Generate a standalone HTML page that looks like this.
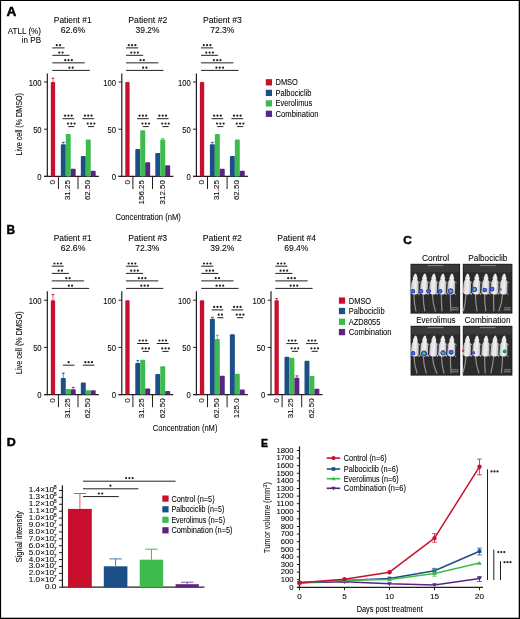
<!DOCTYPE html>
<html><head><meta charset="utf-8"><style>
html,body{margin:0;padding:0;background:#fff;}
svg{display:block;will-change:transform;}
text{font-family:"Liberation Sans",sans-serif;stroke:#231f20;stroke-width:0.08px;}
</style></head><body>
<svg width="520" height="619" viewBox="0 0 520 619">
<rect x="0" y="0" width="520" height="619" fill="#fff"/><rect x="0" y="0" width="520" height="1" fill="#000"/><rect x="0" y="0" width="1.1" height="619" fill="#000"/><rect x="518.7" y="0" width="1.3" height="619" fill="#000"/><rect x="0" y="617.7" width="520" height="1.3" fill="#000"/>
<text x="6.60" y="15.70" font-size="12.3" text-anchor="start" font-weight="bold" textLength="9.90" lengthAdjust="spacingAndGlyphs" fill="#000" style="stroke:#000;stroke-width:0.45px">A</text>
<text x="41.00" y="34.20" font-size="8.3" text-anchor="end" textLength="33.20" lengthAdjust="spacingAndGlyphs">ATLL (%)</text>
<text x="41.00" y="43.40" font-size="8.3" text-anchor="end" textLength="19.20" lengthAdjust="spacingAndGlyphs">in PB</text>
<text x="53.80" y="22.90" font-size="8.3" text-anchor="start" textLength="37.80" lengthAdjust="spacingAndGlyphs">Patient #1</text>
<text x="60.70" y="32.90" font-size="8.3" text-anchor="start" textLength="24.60" lengthAdjust="spacingAndGlyphs">62.6%</text>
<line x1="47.33" y1="73.50" x2="47.33" y2="177.00" stroke="#231f20" stroke-width="1.2"/>
<line x1="44.03" y1="176.40" x2="47.33" y2="176.40" stroke="#231f20" stroke-width="1"/>
<line x1="44.03" y1="129.20" x2="47.33" y2="129.20" stroke="#231f20" stroke-width="1"/>
<line x1="44.03" y1="82.00" x2="47.33" y2="82.00" stroke="#231f20" stroke-width="1"/>
<text x="41.63" y="85.50" font-size="8.3" text-anchor="end" textLength="12.80" lengthAdjust="spacingAndGlyphs">100</text>
<text x="41.63" y="132.70" font-size="8.3" text-anchor="end" textLength="8.50" lengthAdjust="spacingAndGlyphs">50</text>
<text x="41.63" y="179.90" font-size="8.3" text-anchor="end" textLength="4.30" lengthAdjust="spacingAndGlyphs">0</text>
<line x1="44.03" y1="176.40" x2="98.83" y2="176.40" stroke="#231f20" stroke-width="1.3"/>
<line x1="58.43" y1="176.40" x2="58.43" y2="189.00" stroke="#231f20" stroke-width="1"/>
<line x1="78.03" y1="176.40" x2="78.03" y2="189.00" stroke="#231f20" stroke-width="1"/>
<rect x="50.83" y="82.00" width="4.30" height="94.40" fill="#c8102e" rx="0.9"/>
<line x1="52.98" y1="78.22" x2="52.98" y2="82.00" stroke="#c8102e" stroke-width="1.1" opacity="0.6"/>
<line x1="51.58" y1="78.22" x2="54.38" y2="78.22" stroke="#c8102e" stroke-width="1.2" opacity="0.8"/>
<rect x="60.83" y="144.30" width="4.95" height="32.10" fill="#1b4f86" rx="0.9"/>
<line x1="63.30" y1="142.42" x2="63.30" y2="144.30" stroke="#1b4f86" stroke-width="1.1" opacity="0.6"/>
<line x1="61.91" y1="142.42" x2="64.70" y2="142.42" stroke="#1b4f86" stroke-width="1.2" opacity="0.8"/>
<rect x="65.78" y="133.92" width="4.95" height="42.48" fill="#3dbb4c" rx="0.9"/>
<rect x="70.73" y="168.85" width="4.95" height="7.55" fill="#5a2580" rx="0.9"/>
<rect x="80.83" y="156.01" width="4.95" height="20.39" fill="#1b4f86" rx="0.9"/>
<rect x="85.78" y="139.58" width="4.95" height="36.82" fill="#3dbb4c" rx="0.9"/>
<rect x="90.73" y="170.74" width="4.95" height="5.66" fill="#5a2580" rx="0.9"/>
<text x="55.13" y="180.10" font-size="7.8" text-anchor="end" textLength="4.50" lengthAdjust="spacingAndGlyphs" transform="rotate(-90 55.13 180.10)">0</text>
<text x="69.83" y="180.10" font-size="7.8" text-anchor="end" textLength="20.00" lengthAdjust="spacingAndGlyphs" transform="rotate(-90 69.83 180.10)">31.25</text>
<text x="90.23" y="180.10" font-size="7.8" text-anchor="end" textLength="20.00" lengthAdjust="spacingAndGlyphs" transform="rotate(-90 90.23 180.10)">62.50</text>
<line x1="52.33" y1="47.90" x2="64.53" y2="47.90" stroke="#231f20" stroke-width="1"/>
<circle cx="56.78" cy="45.20" r="1.1" fill="#231f20"/>
<circle cx="60.08" cy="45.20" r="1.1" fill="#231f20"/>
<line x1="52.33" y1="55.30" x2="69.53" y2="55.30" stroke="#231f20" stroke-width="1"/>
<circle cx="59.28" cy="52.60" r="1.1" fill="#231f20"/>
<circle cx="62.58" cy="52.60" r="1.1" fill="#231f20"/>
<line x1="52.33" y1="62.85" x2="84.73" y2="62.85" stroke="#231f20" stroke-width="1"/>
<circle cx="65.23" cy="60.15" r="1.1" fill="#231f20"/>
<circle cx="68.53" cy="60.15" r="1.1" fill="#231f20"/>
<circle cx="71.83" cy="60.15" r="1.1" fill="#231f20"/>
<line x1="52.33" y1="70.40" x2="89.83" y2="70.40" stroke="#231f20" stroke-width="1"/>
<circle cx="69.43" cy="67.70" r="1.1" fill="#231f20"/>
<circle cx="72.73" cy="67.70" r="1.1" fill="#231f20"/>
<line x1="62.58" y1="118.70" x2="74.23" y2="118.70" stroke="#231f20" stroke-width="1"/>
<circle cx="65.11" cy="115.70" r="1.1" fill="#231f20"/>
<circle cx="68.41" cy="115.70" r="1.1" fill="#231f20"/>
<circle cx="71.70" cy="115.70" r="1.1" fill="#231f20"/>
<line x1="68.23" y1="126.60" x2="74.33" y2="126.60" stroke="#231f20" stroke-width="1"/>
<circle cx="67.98" cy="123.60" r="1.1" fill="#231f20"/>
<circle cx="71.28" cy="123.60" r="1.1" fill="#231f20"/>
<circle cx="74.58" cy="123.60" r="1.1" fill="#231f20"/>
<line x1="82.33" y1="118.70" x2="94.13" y2="118.70" stroke="#231f20" stroke-width="1"/>
<circle cx="84.93" cy="115.70" r="1.1" fill="#231f20"/>
<circle cx="88.23" cy="115.70" r="1.1" fill="#231f20"/>
<circle cx="91.53" cy="115.70" r="1.1" fill="#231f20"/>
<line x1="87.93" y1="126.60" x2="94.13" y2="126.60" stroke="#231f20" stroke-width="1"/>
<circle cx="87.73" cy="123.60" r="1.1" fill="#231f20"/>
<circle cx="91.03" cy="123.60" r="1.1" fill="#231f20"/>
<circle cx="94.33" cy="123.60" r="1.1" fill="#231f20"/>
<text x="128.30" y="22.90" font-size="8.3" text-anchor="start" textLength="39.00" lengthAdjust="spacingAndGlyphs">Patient #2</text>
<text x="135.60" y="32.90" font-size="8.3" text-anchor="start" textLength="23.90" lengthAdjust="spacingAndGlyphs">39.2%</text>
<line x1="121.80" y1="73.50" x2="121.80" y2="177.00" stroke="#231f20" stroke-width="1.2"/>
<line x1="118.50" y1="176.40" x2="121.80" y2="176.40" stroke="#231f20" stroke-width="1"/>
<line x1="118.50" y1="129.20" x2="121.80" y2="129.20" stroke="#231f20" stroke-width="1"/>
<line x1="118.50" y1="82.00" x2="121.80" y2="82.00" stroke="#231f20" stroke-width="1"/>
<text x="116.10" y="85.50" font-size="8.3" text-anchor="end" textLength="12.80" lengthAdjust="spacingAndGlyphs">100</text>
<text x="116.10" y="132.70" font-size="8.3" text-anchor="end" textLength="8.50" lengthAdjust="spacingAndGlyphs">50</text>
<text x="116.10" y="179.90" font-size="8.3" text-anchor="end" textLength="4.30" lengthAdjust="spacingAndGlyphs">0</text>
<line x1="118.50" y1="176.40" x2="173.30" y2="176.40" stroke="#231f20" stroke-width="1.3"/>
<line x1="132.90" y1="176.40" x2="132.90" y2="189.00" stroke="#231f20" stroke-width="1"/>
<line x1="152.50" y1="176.40" x2="152.50" y2="189.00" stroke="#231f20" stroke-width="1"/>
<rect x="125.30" y="82.00" width="4.30" height="94.40" fill="#c8102e" rx="0.9"/>
<rect x="135.30" y="149.02" width="4.95" height="27.38" fill="#1b4f86" rx="0.9"/>
<rect x="140.25" y="130.24" width="4.95" height="46.16" fill="#3dbb4c" rx="0.9"/>
<rect x="145.20" y="162.24" width="4.95" height="14.16" fill="#5a2580" rx="0.9"/>
<rect x="155.30" y="152.99" width="4.95" height="23.41" fill="#1b4f86" rx="0.9"/>
<rect x="160.25" y="139.49" width="4.95" height="36.91" fill="#3dbb4c" rx="0.9"/>
<line x1="162.73" y1="138.64" x2="162.73" y2="139.49" stroke="#3dbb4c" stroke-width="1.1" opacity="0.6"/>
<line x1="161.33" y1="138.64" x2="164.13" y2="138.64" stroke="#3dbb4c" stroke-width="1.2" opacity="0.8"/>
<rect x="165.20" y="165.36" width="4.95" height="11.04" fill="#5a2580" rx="0.9"/>
<text x="129.60" y="180.10" font-size="7.8" text-anchor="end" textLength="4.50" lengthAdjust="spacingAndGlyphs" transform="rotate(-90 129.60 180.10)">0</text>
<text x="144.30" y="180.10" font-size="7.8" text-anchor="end" textLength="24.30" lengthAdjust="spacingAndGlyphs" transform="rotate(-90 144.30 180.10)">156.25</text>
<text x="164.70" y="180.10" font-size="7.8" text-anchor="end" textLength="24.30" lengthAdjust="spacingAndGlyphs" transform="rotate(-90 164.70 180.10)">312.50</text>
<line x1="126.00" y1="47.90" x2="138.20" y2="47.90" stroke="#231f20" stroke-width="1"/>
<circle cx="128.80" cy="45.20" r="1.1" fill="#231f20"/>
<circle cx="132.10" cy="45.20" r="1.1" fill="#231f20"/>
<circle cx="135.40" cy="45.20" r="1.1" fill="#231f20"/>
<line x1="126.00" y1="55.30" x2="143.20" y2="55.30" stroke="#231f20" stroke-width="1"/>
<circle cx="131.30" cy="52.60" r="1.1" fill="#231f20"/>
<circle cx="134.60" cy="52.60" r="1.1" fill="#231f20"/>
<circle cx="137.90" cy="52.60" r="1.1" fill="#231f20"/>
<line x1="126.00" y1="62.85" x2="158.40" y2="62.85" stroke="#231f20" stroke-width="1"/>
<circle cx="140.55" cy="60.15" r="1.1" fill="#231f20"/>
<circle cx="143.85" cy="60.15" r="1.1" fill="#231f20"/>
<line x1="126.00" y1="70.40" x2="163.50" y2="70.40" stroke="#231f20" stroke-width="1"/>
<circle cx="143.10" cy="67.70" r="1.1" fill="#231f20"/>
<circle cx="146.40" cy="67.70" r="1.1" fill="#231f20"/>
<line x1="137.05" y1="118.70" x2="148.70" y2="118.70" stroke="#231f20" stroke-width="1"/>
<circle cx="139.57" cy="115.70" r="1.1" fill="#231f20"/>
<circle cx="142.88" cy="115.70" r="1.1" fill="#231f20"/>
<circle cx="146.18" cy="115.70" r="1.1" fill="#231f20"/>
<line x1="142.70" y1="126.60" x2="148.80" y2="126.60" stroke="#231f20" stroke-width="1"/>
<circle cx="142.45" cy="123.60" r="1.1" fill="#231f20"/>
<circle cx="145.75" cy="123.60" r="1.1" fill="#231f20"/>
<circle cx="149.05" cy="123.60" r="1.1" fill="#231f20"/>
<line x1="156.80" y1="118.70" x2="168.60" y2="118.70" stroke="#231f20" stroke-width="1"/>
<circle cx="159.40" cy="115.70" r="1.1" fill="#231f20"/>
<circle cx="162.70" cy="115.70" r="1.1" fill="#231f20"/>
<circle cx="166.00" cy="115.70" r="1.1" fill="#231f20"/>
<line x1="162.40" y1="126.60" x2="168.60" y2="126.60" stroke="#231f20" stroke-width="1"/>
<circle cx="162.20" cy="123.60" r="1.1" fill="#231f20"/>
<circle cx="165.50" cy="123.60" r="1.1" fill="#231f20"/>
<circle cx="168.80" cy="123.60" r="1.1" fill="#231f20"/>
<text x="203.00" y="22.90" font-size="8.3" text-anchor="start" textLength="38.90" lengthAdjust="spacingAndGlyphs">Patient #3</text>
<text x="210.20" y="32.90" font-size="8.3" text-anchor="start" textLength="24.30" lengthAdjust="spacingAndGlyphs">72.3%</text>
<line x1="196.40" y1="73.50" x2="196.40" y2="177.00" stroke="#231f20" stroke-width="1.2"/>
<line x1="193.10" y1="176.40" x2="196.40" y2="176.40" stroke="#231f20" stroke-width="1"/>
<line x1="193.10" y1="129.20" x2="196.40" y2="129.20" stroke="#231f20" stroke-width="1"/>
<line x1="193.10" y1="82.00" x2="196.40" y2="82.00" stroke="#231f20" stroke-width="1"/>
<text x="190.70" y="85.50" font-size="8.3" text-anchor="end" textLength="12.80" lengthAdjust="spacingAndGlyphs">100</text>
<text x="190.70" y="132.70" font-size="8.3" text-anchor="end" textLength="8.50" lengthAdjust="spacingAndGlyphs">50</text>
<text x="190.70" y="179.90" font-size="8.3" text-anchor="end" textLength="4.30" lengthAdjust="spacingAndGlyphs">0</text>
<line x1="193.10" y1="176.40" x2="247.90" y2="176.40" stroke="#231f20" stroke-width="1.3"/>
<line x1="207.50" y1="176.40" x2="207.50" y2="189.00" stroke="#231f20" stroke-width="1"/>
<line x1="227.10" y1="176.40" x2="227.10" y2="189.00" stroke="#231f20" stroke-width="1"/>
<rect x="199.90" y="82.00" width="4.30" height="94.40" fill="#c8102e" rx="0.9"/>
<rect x="209.90" y="144.30" width="4.95" height="32.10" fill="#1b4f86" rx="0.9"/>
<line x1="212.38" y1="142.42" x2="212.38" y2="144.30" stroke="#1b4f86" stroke-width="1.1" opacity="0.6"/>
<line x1="210.97" y1="142.42" x2="213.78" y2="142.42" stroke="#1b4f86" stroke-width="1.2" opacity="0.8"/>
<rect x="214.85" y="133.92" width="4.95" height="42.48" fill="#3dbb4c" rx="0.9"/>
<rect x="219.80" y="168.85" width="4.95" height="7.55" fill="#5a2580" rx="0.9"/>
<rect x="229.90" y="156.01" width="4.95" height="20.39" fill="#1b4f86" rx="0.9"/>
<rect x="234.85" y="139.58" width="4.95" height="36.82" fill="#3dbb4c" rx="0.9"/>
<rect x="239.80" y="170.74" width="4.95" height="5.66" fill="#5a2580" rx="0.9"/>
<text x="204.20" y="180.10" font-size="7.8" text-anchor="end" textLength="4.50" lengthAdjust="spacingAndGlyphs" transform="rotate(-90 204.20 180.10)">0</text>
<text x="218.90" y="180.10" font-size="7.8" text-anchor="end" textLength="20.00" lengthAdjust="spacingAndGlyphs" transform="rotate(-90 218.90 180.10)">31.25</text>
<text x="239.30" y="180.10" font-size="7.8" text-anchor="end" textLength="20.00" lengthAdjust="spacingAndGlyphs" transform="rotate(-90 239.30 180.10)">62.50</text>
<line x1="201.00" y1="47.90" x2="213.20" y2="47.90" stroke="#231f20" stroke-width="1"/>
<circle cx="203.80" cy="45.20" r="1.1" fill="#231f20"/>
<circle cx="207.10" cy="45.20" r="1.1" fill="#231f20"/>
<circle cx="210.40" cy="45.20" r="1.1" fill="#231f20"/>
<line x1="201.00" y1="55.30" x2="218.20" y2="55.30" stroke="#231f20" stroke-width="1"/>
<circle cx="206.30" cy="52.60" r="1.1" fill="#231f20"/>
<circle cx="209.60" cy="52.60" r="1.1" fill="#231f20"/>
<circle cx="212.90" cy="52.60" r="1.1" fill="#231f20"/>
<line x1="201.00" y1="62.85" x2="233.40" y2="62.85" stroke="#231f20" stroke-width="1"/>
<circle cx="213.90" cy="60.15" r="1.1" fill="#231f20"/>
<circle cx="217.20" cy="60.15" r="1.1" fill="#231f20"/>
<circle cx="220.50" cy="60.15" r="1.1" fill="#231f20"/>
<line x1="201.00" y1="70.40" x2="238.50" y2="70.40" stroke="#231f20" stroke-width="1"/>
<circle cx="216.45" cy="67.70" r="1.1" fill="#231f20"/>
<circle cx="219.75" cy="67.70" r="1.1" fill="#231f20"/>
<circle cx="223.05" cy="67.70" r="1.1" fill="#231f20"/>
<line x1="211.65" y1="118.70" x2="223.30" y2="118.70" stroke="#231f20" stroke-width="1"/>
<circle cx="214.17" cy="115.70" r="1.1" fill="#231f20"/>
<circle cx="217.47" cy="115.70" r="1.1" fill="#231f20"/>
<circle cx="220.78" cy="115.70" r="1.1" fill="#231f20"/>
<line x1="217.30" y1="126.60" x2="223.40" y2="126.60" stroke="#231f20" stroke-width="1"/>
<circle cx="217.05" cy="123.60" r="1.1" fill="#231f20"/>
<circle cx="220.35" cy="123.60" r="1.1" fill="#231f20"/>
<circle cx="223.65" cy="123.60" r="1.1" fill="#231f20"/>
<line x1="231.40" y1="118.70" x2="243.20" y2="118.70" stroke="#231f20" stroke-width="1"/>
<circle cx="234.00" cy="115.70" r="1.1" fill="#231f20"/>
<circle cx="237.30" cy="115.70" r="1.1" fill="#231f20"/>
<circle cx="240.60" cy="115.70" r="1.1" fill="#231f20"/>
<line x1="237.00" y1="126.60" x2="243.20" y2="126.60" stroke="#231f20" stroke-width="1"/>
<circle cx="236.80" cy="123.60" r="1.1" fill="#231f20"/>
<circle cx="240.10" cy="123.60" r="1.1" fill="#231f20"/>
<circle cx="243.40" cy="123.60" r="1.1" fill="#231f20"/>
<text x="115.60" y="220.40" font-size="8.6" text-anchor="start" textLength="65.20" lengthAdjust="spacingAndGlyphs">Concentration (nM)</text>
<text x="21.90" y="124.30" font-size="8.3" text-anchor="middle" textLength="62.30" lengthAdjust="spacingAndGlyphs" transform="rotate(-90 21.90 124.30)">Live cell (% DMSO)</text>
<rect x="265.80" y="79.15" width="6.20" height="6.30" fill="#c8102e"/>
<text x="275.50" y="85.20" font-size="8.3" text-anchor="start" textLength="22.40" lengthAdjust="spacingAndGlyphs">DMSO</text>
<rect x="265.80" y="89.75" width="6.20" height="6.30" fill="#1b4f86"/>
<text x="275.50" y="95.80" font-size="8.3" text-anchor="start" textLength="35.90" lengthAdjust="spacingAndGlyphs">Palbociclib</text>
<rect x="265.80" y="100.25" width="6.20" height="6.30" fill="#3dbb4c"/>
<text x="275.50" y="106.30" font-size="8.3" text-anchor="start" textLength="36.65" lengthAdjust="spacingAndGlyphs">Everolimus</text>
<rect x="265.80" y="110.65" width="6.20" height="6.30" fill="#5a2580"/>
<text x="275.50" y="116.70" font-size="8.3" text-anchor="start" textLength="42.90" lengthAdjust="spacingAndGlyphs">Combination</text>
<text x="6.60" y="234.40" font-size="12.3" text-anchor="start" font-weight="bold" textLength="8.60" lengthAdjust="spacingAndGlyphs" fill="#000" style="stroke:#000;stroke-width:0.45px">B</text>
<text x="53.70" y="241.00" font-size="8.3" text-anchor="start" textLength="37.90" lengthAdjust="spacingAndGlyphs">Patient #1</text>
<text x="60.70" y="251.00" font-size="8.3" text-anchor="start" textLength="24.80" lengthAdjust="spacingAndGlyphs">62.6%</text>
<line x1="47.33" y1="291.20" x2="47.33" y2="395.20" stroke="#231f20" stroke-width="1.2"/>
<line x1="44.03" y1="394.60" x2="47.33" y2="394.60" stroke="#231f20" stroke-width="1"/>
<line x1="44.03" y1="347.40" x2="47.33" y2="347.40" stroke="#231f20" stroke-width="1"/>
<line x1="44.03" y1="300.20" x2="47.33" y2="300.20" stroke="#231f20" stroke-width="1"/>
<text x="41.63" y="303.70" font-size="8.3" text-anchor="end" textLength="12.80" lengthAdjust="spacingAndGlyphs">100</text>
<text x="41.63" y="350.90" font-size="8.3" text-anchor="end" textLength="8.50" lengthAdjust="spacingAndGlyphs">50</text>
<text x="41.63" y="398.10" font-size="8.3" text-anchor="end" textLength="4.30" lengthAdjust="spacingAndGlyphs">0</text>
<line x1="44.03" y1="394.60" x2="98.83" y2="394.60" stroke="#231f20" stroke-width="1.3"/>
<line x1="58.43" y1="394.60" x2="58.43" y2="407.20" stroke="#231f20" stroke-width="1"/>
<line x1="78.03" y1="394.60" x2="78.03" y2="407.20" stroke="#231f20" stroke-width="1"/>
<rect x="50.83" y="300.20" width="4.30" height="94.40" fill="#c8102e" rx="0.9"/>
<line x1="52.98" y1="294.54" x2="52.98" y2="300.20" stroke="#c8102e" stroke-width="1.1" opacity="0.6"/>
<line x1="51.58" y1="294.54" x2="54.38" y2="294.54" stroke="#c8102e" stroke-width="1.2" opacity="0.8"/>
<rect x="60.83" y="377.99" width="4.95" height="16.61" fill="#1b4f86" rx="0.9"/>
<line x1="63.30" y1="373.27" x2="63.30" y2="377.99" stroke="#1b4f86" stroke-width="1.1" opacity="0.6"/>
<line x1="61.91" y1="373.27" x2="64.70" y2="373.27" stroke="#1b4f86" stroke-width="1.2" opacity="0.8"/>
<rect x="65.78" y="389.03" width="4.95" height="5.57" fill="#3dbb4c" rx="0.9"/>
<rect x="70.73" y="389.31" width="4.95" height="5.29" fill="#5a2580" rx="0.9"/>
<line x1="73.21" y1="387.43" x2="73.21" y2="389.31" stroke="#5a2580" stroke-width="1.1" opacity="0.6"/>
<line x1="71.81" y1="387.43" x2="74.61" y2="387.43" stroke="#5a2580" stroke-width="1.2" opacity="0.8"/>
<rect x="80.83" y="382.52" width="4.95" height="12.08" fill="#1b4f86" rx="0.9"/>
<rect x="85.78" y="390.26" width="4.95" height="4.34" fill="#3dbb4c" rx="0.9"/>
<rect x="90.73" y="390.26" width="4.95" height="4.34" fill="#5a2580" rx="0.9"/>
<text x="55.13" y="398.30" font-size="7.8" text-anchor="end" textLength="4.50" lengthAdjust="spacingAndGlyphs" transform="rotate(-90 55.13 398.30)">0</text>
<text x="69.83" y="398.30" font-size="7.8" text-anchor="end" textLength="20.00" lengthAdjust="spacingAndGlyphs" transform="rotate(-90 69.83 398.30)">31.25</text>
<text x="90.23" y="398.30" font-size="7.8" text-anchor="end" textLength="20.00" lengthAdjust="spacingAndGlyphs" transform="rotate(-90 90.23 398.30)">62.50</text>
<line x1="51.78" y1="266.20" x2="63.78" y2="266.20" stroke="#231f20" stroke-width="1"/>
<circle cx="54.48" cy="263.50" r="1.1" fill="#231f20"/>
<circle cx="57.78" cy="263.50" r="1.1" fill="#231f20"/>
<circle cx="61.08" cy="263.50" r="1.1" fill="#231f20"/>
<line x1="51.78" y1="273.40" x2="68.88" y2="273.40" stroke="#231f20" stroke-width="1"/>
<circle cx="58.68" cy="270.70" r="1.1" fill="#231f20"/>
<circle cx="61.98" cy="270.70" r="1.1" fill="#231f20"/>
<line x1="51.78" y1="280.90" x2="84.08" y2="280.90" stroke="#231f20" stroke-width="1"/>
<circle cx="66.28" cy="278.20" r="1.1" fill="#231f20"/>
<circle cx="69.58" cy="278.20" r="1.1" fill="#231f20"/>
<line x1="51.78" y1="288.40" x2="89.08" y2="288.40" stroke="#231f20" stroke-width="1"/>
<circle cx="68.78" cy="285.70" r="1.1" fill="#231f20"/>
<circle cx="72.08" cy="285.70" r="1.1" fill="#231f20"/>
<line x1="62.93" y1="365.20" x2="74.43" y2="365.20" stroke="#231f20" stroke-width="1"/>
<circle cx="68.68" cy="362.20" r="1.1" fill="#231f20"/>
<line x1="82.83" y1="365.20" x2="94.43" y2="365.20" stroke="#231f20" stroke-width="1"/>
<circle cx="85.33" cy="362.20" r="1.1" fill="#231f20"/>
<circle cx="88.63" cy="362.20" r="1.1" fill="#231f20"/>
<circle cx="91.93" cy="362.20" r="1.1" fill="#231f20"/>
<text x="128.30" y="241.00" font-size="8.3" text-anchor="start" textLength="38.80" lengthAdjust="spacingAndGlyphs">Patient #3</text>
<text x="135.20" y="251.00" font-size="8.3" text-anchor="start" textLength="24.30" lengthAdjust="spacingAndGlyphs">72.3%</text>
<line x1="121.80" y1="291.20" x2="121.80" y2="395.20" stroke="#231f20" stroke-width="1.2"/>
<line x1="118.50" y1="394.60" x2="121.80" y2="394.60" stroke="#231f20" stroke-width="1"/>
<line x1="118.50" y1="347.40" x2="121.80" y2="347.40" stroke="#231f20" stroke-width="1"/>
<line x1="118.50" y1="300.20" x2="121.80" y2="300.20" stroke="#231f20" stroke-width="1"/>
<text x="116.10" y="303.70" font-size="8.3" text-anchor="end" textLength="12.80" lengthAdjust="spacingAndGlyphs">100</text>
<text x="116.10" y="350.90" font-size="8.3" text-anchor="end" textLength="8.50" lengthAdjust="spacingAndGlyphs">50</text>
<text x="116.10" y="398.10" font-size="8.3" text-anchor="end" textLength="4.30" lengthAdjust="spacingAndGlyphs">0</text>
<line x1="118.50" y1="394.60" x2="173.30" y2="394.60" stroke="#231f20" stroke-width="1.3"/>
<line x1="132.90" y1="394.60" x2="132.90" y2="407.20" stroke="#231f20" stroke-width="1"/>
<line x1="152.50" y1="394.60" x2="152.50" y2="407.20" stroke="#231f20" stroke-width="1"/>
<rect x="125.30" y="300.20" width="4.30" height="94.40" fill="#c8102e" rx="0.9"/>
<rect x="135.30" y="362.88" width="4.95" height="31.72" fill="#1b4f86" rx="0.9"/>
<line x1="137.78" y1="360.52" x2="137.78" y2="362.88" stroke="#1b4f86" stroke-width="1.1" opacity="0.6"/>
<line x1="136.38" y1="360.52" x2="139.18" y2="360.52" stroke="#1b4f86" stroke-width="1.2" opacity="0.8"/>
<rect x="140.25" y="359.67" width="4.95" height="34.93" fill="#3dbb4c" rx="0.9"/>
<rect x="145.20" y="388.46" width="4.95" height="6.14" fill="#5a2580" rx="0.9"/>
<rect x="155.30" y="374.12" width="4.95" height="20.48" fill="#1b4f86" rx="0.9"/>
<rect x="160.25" y="366.28" width="4.95" height="28.32" fill="#3dbb4c" rx="0.9"/>
<rect x="165.20" y="391.01" width="4.95" height="3.59" fill="#5a2580" rx="0.9"/>
<text x="129.60" y="398.30" font-size="7.8" text-anchor="end" textLength="4.50" lengthAdjust="spacingAndGlyphs" transform="rotate(-90 129.60 398.30)">0</text>
<text x="144.30" y="398.30" font-size="7.8" text-anchor="end" textLength="20.00" lengthAdjust="spacingAndGlyphs" transform="rotate(-90 144.30 398.30)">31.25</text>
<text x="164.70" y="398.30" font-size="7.8" text-anchor="end" textLength="20.00" lengthAdjust="spacingAndGlyphs" transform="rotate(-90 164.70 398.30)">62.50</text>
<line x1="126.00" y1="266.20" x2="138.00" y2="266.20" stroke="#231f20" stroke-width="1"/>
<circle cx="128.70" cy="263.50" r="1.1" fill="#231f20"/>
<circle cx="132.00" cy="263.50" r="1.1" fill="#231f20"/>
<circle cx="135.30" cy="263.50" r="1.1" fill="#231f20"/>
<line x1="126.00" y1="273.40" x2="143.10" y2="273.40" stroke="#231f20" stroke-width="1"/>
<circle cx="131.25" cy="270.70" r="1.1" fill="#231f20"/>
<circle cx="134.55" cy="270.70" r="1.1" fill="#231f20"/>
<circle cx="137.85" cy="270.70" r="1.1" fill="#231f20"/>
<line x1="126.00" y1="280.90" x2="158.30" y2="280.90" stroke="#231f20" stroke-width="1"/>
<circle cx="138.85" cy="278.20" r="1.1" fill="#231f20"/>
<circle cx="142.15" cy="278.20" r="1.1" fill="#231f20"/>
<circle cx="145.45" cy="278.20" r="1.1" fill="#231f20"/>
<line x1="126.00" y1="288.40" x2="163.30" y2="288.40" stroke="#231f20" stroke-width="1"/>
<circle cx="141.35" cy="285.70" r="1.1" fill="#231f20"/>
<circle cx="144.65" cy="285.70" r="1.1" fill="#231f20"/>
<circle cx="147.95" cy="285.70" r="1.1" fill="#231f20"/>
<line x1="137.05" y1="343.50" x2="148.70" y2="343.50" stroke="#231f20" stroke-width="1"/>
<circle cx="139.57" cy="340.50" r="1.1" fill="#231f20"/>
<circle cx="142.88" cy="340.50" r="1.1" fill="#231f20"/>
<circle cx="146.18" cy="340.50" r="1.1" fill="#231f20"/>
<line x1="142.70" y1="351.40" x2="148.80" y2="351.40" stroke="#231f20" stroke-width="1"/>
<circle cx="142.45" cy="348.40" r="1.1" fill="#231f20"/>
<circle cx="145.75" cy="348.40" r="1.1" fill="#231f20"/>
<circle cx="149.05" cy="348.40" r="1.1" fill="#231f20"/>
<line x1="156.80" y1="343.50" x2="168.60" y2="343.50" stroke="#231f20" stroke-width="1"/>
<circle cx="159.40" cy="340.50" r="1.1" fill="#231f20"/>
<circle cx="162.70" cy="340.50" r="1.1" fill="#231f20"/>
<circle cx="166.00" cy="340.50" r="1.1" fill="#231f20"/>
<line x1="162.40" y1="351.40" x2="168.60" y2="351.40" stroke="#231f20" stroke-width="1"/>
<circle cx="162.20" cy="348.40" r="1.1" fill="#231f20"/>
<circle cx="165.50" cy="348.40" r="1.1" fill="#231f20"/>
<circle cx="168.80" cy="348.40" r="1.1" fill="#231f20"/>
<text x="202.80" y="241.00" font-size="8.3" text-anchor="start" textLength="39.10" lengthAdjust="spacingAndGlyphs">Patient #2</text>
<text x="210.20" y="251.00" font-size="8.3" text-anchor="start" textLength="24.30" lengthAdjust="spacingAndGlyphs">39.2%</text>
<line x1="196.40" y1="291.20" x2="196.40" y2="395.20" stroke="#231f20" stroke-width="1.2"/>
<line x1="193.10" y1="394.60" x2="196.40" y2="394.60" stroke="#231f20" stroke-width="1"/>
<line x1="193.10" y1="347.40" x2="196.40" y2="347.40" stroke="#231f20" stroke-width="1"/>
<line x1="193.10" y1="300.20" x2="196.40" y2="300.20" stroke="#231f20" stroke-width="1"/>
<text x="190.70" y="303.70" font-size="8.3" text-anchor="end" textLength="12.80" lengthAdjust="spacingAndGlyphs">100</text>
<text x="190.70" y="350.90" font-size="8.3" text-anchor="end" textLength="8.50" lengthAdjust="spacingAndGlyphs">50</text>
<text x="190.70" y="398.10" font-size="8.3" text-anchor="end" textLength="4.30" lengthAdjust="spacingAndGlyphs">0</text>
<line x1="193.10" y1="394.60" x2="247.90" y2="394.60" stroke="#231f20" stroke-width="1.3"/>
<line x1="207.50" y1="394.60" x2="207.50" y2="407.20" stroke="#231f20" stroke-width="1"/>
<line x1="227.10" y1="394.60" x2="227.10" y2="407.20" stroke="#231f20" stroke-width="1"/>
<rect x="199.90" y="300.20" width="4.30" height="94.40" fill="#c8102e" rx="0.9"/>
<rect x="209.90" y="318.80" width="4.95" height="75.80" fill="#1b4f86" rx="0.9"/>
<line x1="212.38" y1="317.29" x2="212.38" y2="318.80" stroke="#1b4f86" stroke-width="1.1" opacity="0.6"/>
<line x1="210.97" y1="317.29" x2="213.78" y2="317.29" stroke="#1b4f86" stroke-width="1.2" opacity="0.8"/>
<rect x="214.85" y="338.90" width="4.95" height="55.70" fill="#3dbb4c" rx="0.9"/>
<line x1="217.32" y1="335.32" x2="217.32" y2="338.90" stroke="#3dbb4c" stroke-width="1.1" opacity="0.6"/>
<line x1="215.92" y1="335.32" x2="218.72" y2="335.32" stroke="#3dbb4c" stroke-width="1.2" opacity="0.8"/>
<rect x="219.80" y="375.72" width="4.95" height="18.88" fill="#5a2580" rx="0.9"/>
<rect x="229.90" y="334.28" width="4.95" height="60.32" fill="#1b4f86" rx="0.9"/>
<rect x="234.85" y="373.83" width="4.95" height="20.77" fill="#3dbb4c" rx="0.9"/>
<rect x="239.80" y="389.50" width="4.95" height="5.10" fill="#5a2580" rx="0.9"/>
<text x="204.20" y="398.30" font-size="7.8" text-anchor="end" textLength="4.50" lengthAdjust="spacingAndGlyphs" transform="rotate(-90 204.20 398.30)">0</text>
<text x="218.90" y="398.30" font-size="7.8" text-anchor="end" textLength="20.00" lengthAdjust="spacingAndGlyphs" transform="rotate(-90 218.90 398.30)">62.50</text>
<text x="239.30" y="398.30" font-size="7.8" text-anchor="end" textLength="20.00" lengthAdjust="spacingAndGlyphs" transform="rotate(-90 239.30 398.30)">125.0</text>
<line x1="201.25" y1="266.20" x2="213.25" y2="266.20" stroke="#231f20" stroke-width="1"/>
<circle cx="203.95" cy="263.50" r="1.1" fill="#231f20"/>
<circle cx="207.25" cy="263.50" r="1.1" fill="#231f20"/>
<circle cx="210.55" cy="263.50" r="1.1" fill="#231f20"/>
<line x1="201.25" y1="273.40" x2="218.35" y2="273.40" stroke="#231f20" stroke-width="1"/>
<circle cx="206.50" cy="270.70" r="1.1" fill="#231f20"/>
<circle cx="209.80" cy="270.70" r="1.1" fill="#231f20"/>
<circle cx="213.10" cy="270.70" r="1.1" fill="#231f20"/>
<line x1="201.25" y1="280.90" x2="233.55" y2="280.90" stroke="#231f20" stroke-width="1"/>
<circle cx="215.75" cy="278.20" r="1.1" fill="#231f20"/>
<circle cx="219.05" cy="278.20" r="1.1" fill="#231f20"/>
<line x1="201.25" y1="288.40" x2="238.55" y2="288.40" stroke="#231f20" stroke-width="1"/>
<circle cx="216.60" cy="285.70" r="1.1" fill="#231f20"/>
<circle cx="219.90" cy="285.70" r="1.1" fill="#231f20"/>
<circle cx="223.20" cy="285.70" r="1.1" fill="#231f20"/>
<line x1="211.65" y1="309.90" x2="223.30" y2="309.90" stroke="#231f20" stroke-width="1"/>
<circle cx="214.17" cy="306.90" r="1.1" fill="#231f20"/>
<circle cx="217.47" cy="306.90" r="1.1" fill="#231f20"/>
<circle cx="220.78" cy="306.90" r="1.1" fill="#231f20"/>
<line x1="217.30" y1="317.70" x2="223.40" y2="317.70" stroke="#231f20" stroke-width="1"/>
<circle cx="218.70" cy="314.70" r="1.1" fill="#231f20"/>
<circle cx="222.00" cy="314.70" r="1.1" fill="#231f20"/>
<line x1="231.40" y1="309.90" x2="243.20" y2="309.90" stroke="#231f20" stroke-width="1"/>
<circle cx="234.00" cy="306.90" r="1.1" fill="#231f20"/>
<circle cx="237.30" cy="306.90" r="1.1" fill="#231f20"/>
<circle cx="240.60" cy="306.90" r="1.1" fill="#231f20"/>
<line x1="237.00" y1="317.70" x2="243.20" y2="317.70" stroke="#231f20" stroke-width="1"/>
<circle cx="236.80" cy="314.70" r="1.1" fill="#231f20"/>
<circle cx="240.10" cy="314.70" r="1.1" fill="#231f20"/>
<circle cx="243.40" cy="314.70" r="1.1" fill="#231f20"/>
<text x="277.30" y="241.00" font-size="8.3" text-anchor="start" textLength="38.80" lengthAdjust="spacingAndGlyphs">Patient #4</text>
<text x="284.20" y="251.00" font-size="8.3" text-anchor="start" textLength="24.30" lengthAdjust="spacingAndGlyphs">69.4%</text>
<line x1="271.00" y1="291.20" x2="271.00" y2="395.20" stroke="#231f20" stroke-width="1.2"/>
<line x1="267.70" y1="394.60" x2="271.00" y2="394.60" stroke="#231f20" stroke-width="1"/>
<line x1="267.70" y1="347.40" x2="271.00" y2="347.40" stroke="#231f20" stroke-width="1"/>
<line x1="267.70" y1="300.20" x2="271.00" y2="300.20" stroke="#231f20" stroke-width="1"/>
<text x="265.30" y="303.70" font-size="8.3" text-anchor="end" textLength="12.80" lengthAdjust="spacingAndGlyphs">100</text>
<text x="265.30" y="350.90" font-size="8.3" text-anchor="end" textLength="8.50" lengthAdjust="spacingAndGlyphs">50</text>
<text x="265.30" y="398.10" font-size="8.3" text-anchor="end" textLength="4.30" lengthAdjust="spacingAndGlyphs">0</text>
<line x1="267.70" y1="394.60" x2="322.50" y2="394.60" stroke="#231f20" stroke-width="1.3"/>
<line x1="282.10" y1="394.60" x2="282.10" y2="407.20" stroke="#231f20" stroke-width="1"/>
<line x1="301.70" y1="394.60" x2="301.70" y2="407.20" stroke="#231f20" stroke-width="1"/>
<rect x="274.50" y="300.20" width="4.30" height="94.40" fill="#c8102e" rx="0.9"/>
<line x1="276.65" y1="298.60" x2="276.65" y2="300.20" stroke="#c8102e" stroke-width="1.1" opacity="0.6"/>
<line x1="275.25" y1="298.60" x2="278.05" y2="298.60" stroke="#c8102e" stroke-width="1.2" opacity="0.8"/>
<rect x="284.50" y="356.84" width="4.95" height="37.76" fill="#1b4f86" rx="0.9"/>
<rect x="289.45" y="357.78" width="4.95" height="36.82" fill="#3dbb4c" rx="0.9"/>
<rect x="294.40" y="377.70" width="4.95" height="16.90" fill="#5a2580" rx="0.9"/>
<line x1="296.88" y1="375.91" x2="296.88" y2="377.70" stroke="#5a2580" stroke-width="1.1" opacity="0.6"/>
<line x1="295.48" y1="375.91" x2="298.27" y2="375.91" stroke="#5a2580" stroke-width="1.2" opacity="0.8"/>
<rect x="304.50" y="360.80" width="4.95" height="33.80" fill="#1b4f86" rx="0.9"/>
<rect x="309.45" y="375.91" width="4.95" height="18.69" fill="#3dbb4c" rx="0.9"/>
<rect x="314.40" y="388.65" width="4.95" height="5.95" fill="#5a2580" rx="0.9"/>
<text x="278.80" y="398.30" font-size="7.8" text-anchor="end" textLength="4.50" lengthAdjust="spacingAndGlyphs" transform="rotate(-90 278.80 398.30)">0</text>
<text x="293.50" y="398.30" font-size="7.8" text-anchor="end" textLength="20.00" lengthAdjust="spacingAndGlyphs" transform="rotate(-90 293.50 398.30)">31.25</text>
<text x="313.90" y="398.30" font-size="7.8" text-anchor="end" textLength="20.00" lengthAdjust="spacingAndGlyphs" transform="rotate(-90 313.90 398.30)">62.50</text>
<line x1="275.30" y1="266.20" x2="287.30" y2="266.20" stroke="#231f20" stroke-width="1"/>
<circle cx="278.00" cy="263.50" r="1.1" fill="#231f20"/>
<circle cx="281.30" cy="263.50" r="1.1" fill="#231f20"/>
<circle cx="284.60" cy="263.50" r="1.1" fill="#231f20"/>
<line x1="275.30" y1="273.40" x2="292.40" y2="273.40" stroke="#231f20" stroke-width="1"/>
<circle cx="280.55" cy="270.70" r="1.1" fill="#231f20"/>
<circle cx="283.85" cy="270.70" r="1.1" fill="#231f20"/>
<circle cx="287.15" cy="270.70" r="1.1" fill="#231f20"/>
<line x1="275.30" y1="280.90" x2="307.60" y2="280.90" stroke="#231f20" stroke-width="1"/>
<circle cx="288.15" cy="278.20" r="1.1" fill="#231f20"/>
<circle cx="291.45" cy="278.20" r="1.1" fill="#231f20"/>
<circle cx="294.75" cy="278.20" r="1.1" fill="#231f20"/>
<line x1="275.30" y1="288.40" x2="312.60" y2="288.40" stroke="#231f20" stroke-width="1"/>
<circle cx="290.65" cy="285.70" r="1.1" fill="#231f20"/>
<circle cx="293.95" cy="285.70" r="1.1" fill="#231f20"/>
<circle cx="297.25" cy="285.70" r="1.1" fill="#231f20"/>
<line x1="286.25" y1="343.60" x2="297.90" y2="343.60" stroke="#231f20" stroke-width="1"/>
<circle cx="288.77" cy="340.60" r="1.1" fill="#231f20"/>
<circle cx="292.07" cy="340.60" r="1.1" fill="#231f20"/>
<circle cx="295.38" cy="340.60" r="1.1" fill="#231f20"/>
<line x1="291.90" y1="351.30" x2="298.00" y2="351.30" stroke="#231f20" stroke-width="1"/>
<circle cx="291.65" cy="348.30" r="1.1" fill="#231f20"/>
<circle cx="294.95" cy="348.30" r="1.1" fill="#231f20"/>
<circle cx="298.25" cy="348.30" r="1.1" fill="#231f20"/>
<line x1="306.00" y1="343.60" x2="317.80" y2="343.60" stroke="#231f20" stroke-width="1"/>
<circle cx="308.60" cy="340.60" r="1.1" fill="#231f20"/>
<circle cx="311.90" cy="340.60" r="1.1" fill="#231f20"/>
<circle cx="315.20" cy="340.60" r="1.1" fill="#231f20"/>
<line x1="311.60" y1="351.30" x2="317.80" y2="351.30" stroke="#231f20" stroke-width="1"/>
<circle cx="311.40" cy="348.30" r="1.1" fill="#231f20"/>
<circle cx="314.70" cy="348.30" r="1.1" fill="#231f20"/>
<circle cx="318.00" cy="348.30" r="1.1" fill="#231f20"/>
<text x="152.80" y="431.20" font-size="8.6" text-anchor="start" textLength="64.60" lengthAdjust="spacingAndGlyphs">Concentration (nM)</text>
<text x="22.10" y="342.70" font-size="8.3" text-anchor="middle" textLength="62.60" lengthAdjust="spacingAndGlyphs" transform="rotate(-90 22.10 342.70)">Live cell (% DMSO)</text>
<rect x="338.90" y="297.45" width="6.20" height="6.30" fill="#c8102e"/>
<text x="348.75" y="303.50" font-size="8.3" text-anchor="start" textLength="22.45" lengthAdjust="spacingAndGlyphs">DMSO</text>
<rect x="338.90" y="307.85" width="6.20" height="6.30" fill="#1b4f86"/>
<text x="348.75" y="313.90" font-size="8.3" text-anchor="start" textLength="35.85" lengthAdjust="spacingAndGlyphs">Palbociclib</text>
<rect x="338.90" y="318.65" width="6.20" height="6.30" fill="#3dbb4c"/>
<text x="348.75" y="324.70" font-size="8.3" text-anchor="start" textLength="31.65" lengthAdjust="spacingAndGlyphs">AZD8055</text>
<rect x="338.90" y="328.95" width="6.20" height="6.30" fill="#5a2580"/>
<text x="348.75" y="335.00" font-size="8.3" text-anchor="start" textLength="42.85" lengthAdjust="spacingAndGlyphs">Combination</text>
<text x="403.20" y="244.20" font-size="11.5" text-anchor="start" font-weight="bold" textLength="8.60" lengthAdjust="spacingAndGlyphs" fill="#000" style="stroke:#000;stroke-width:0.45px">C</text>
<text x="421.90" y="261.00" font-size="8.3" text-anchor="start" textLength="27.20" lengthAdjust="spacingAndGlyphs">Control</text>
<text x="468.30" y="261.00" font-size="8.3" text-anchor="start" textLength="39.00" lengthAdjust="spacingAndGlyphs">Palbociclib</text>
<text x="416.30" y="323.00" font-size="8.3" text-anchor="start" textLength="39.30" lengthAdjust="spacingAndGlyphs">Everolimus</text>
<text x="464.40" y="323.00" font-size="8.3" text-anchor="start" textLength="46.10" lengthAdjust="spacingAndGlyphs">Combination</text>
<defs>
<radialGradient id="gb"><stop offset="0" stop-color="#30b0c0"/><stop offset="0.45" stop-color="#2060d8"/><stop offset="0.8" stop-color="#5030c0"/><stop offset="1" stop-color="#7040c0" stop-opacity="0.2"/></radialGradient>
<radialGradient id="gg"><stop offset="0" stop-color="#d8d040"/><stop offset="0.3" stop-color="#40b868"/><stop offset="0.6" stop-color="#2060d8"/><stop offset="0.85" stop-color="#5030c0"/><stop offset="1" stop-color="#7040c0" stop-opacity="0.2"/></radialGradient>
<radialGradient id="gp"><stop offset="0" stop-color="#6040d0"/><stop offset="1" stop-color="#6040d0" stop-opacity="0"/></radialGradient>
<radialGradient id="gr"><stop offset="0" stop-color="#f06020"/><stop offset="0.6" stop-color="#d03030"/><stop offset="1" stop-color="#d03030" stop-opacity="0"/></radialGradient>
<radialGradient id="gt"><stop offset="0" stop-color="#20a0a0"/><stop offset="0.6" stop-color="#1080a0"/><stop offset="1" stop-color="#1080a0" stop-opacity="0"/></radialGradient>
<linearGradient id="mb" x1="0" x2="1"><stop offset="0" stop-color="#a0a0a0"/><stop offset="0.25" stop-color="#e2e2e2"/><stop offset="0.6" stop-color="#f0f0f0"/><stop offset="1" stop-color="#b4b4b4"/></linearGradient>
</defs>
<rect x="410.50" y="263.80" width="49.60" height="49.80" fill="#1c1c1c"/>
<rect x="411.30" y="264.60" width="48.00" height="48.20" fill="#2b2b2b"/>
<rect x="411.30" y="264.70" width="48.00" height="7.60" fill="#3a3a3a"/>
<rect x="427.50" y="265.20" width="16.00" height="0.90" fill="#8a8a8a"/>
<rect x="451.50" y="307.30" width="7.00" height="1.00" fill="#8a8a8a"/>
<rect x="451.50" y="309.30" width="7.00" height="1.00" fill="#8a8a8a"/>
<g transform="translate(415.5,273.4) rotate(3)"><path d="M-0.6,20.5 Q0.1,30 2.5,38" stroke="#909090" stroke-width="1.2" fill="none"/><path d="M2.6,19 L5.0,21.2 M-3.2,19 L-5.2,21 M3,8 L5,9.4" stroke="#bdbdbd" stroke-width="0.9"/><path d="M0,0 C1.1,0.4 1.6,1.8 1.8,3.2 L2.6,4.6 L2.1,6.2 C3.2,7.4 3.8,9.2 3.8,12 L4.0,18.4 C3.8,20.3 2.4,21.2 0,21.2 C-2.4,21.2 -3.8,20.3 -4.0,18.4 L-3.8,12 C-3.8,9.2 -3.2,7.4 -2.1,6.2 L-2.6,4.6 L-1.8,3.2 C-1.6,1.8 -1.1,0.4 0,0Z" fill="url(#mb)"/></g>
<g transform="translate(424.8,273.4) rotate(3)"><path d="M-0.6,20.5 Q0.0,30 2.0,38" stroke="#909090" stroke-width="1.2" fill="none"/><path d="M2.6,19 L5.0,21.2 M-3.2,19 L-5.2,21 M3,8 L5,9.4" stroke="#bdbdbd" stroke-width="0.9"/><path d="M0,0 C1.1,0.4 1.6,1.8 1.8,3.2 L2.6,4.6 L2.1,6.2 C3.2,7.4 3.8,9.2 3.8,12 L4.0,18.4 C3.8,20.3 2.4,21.2 0,21.2 C-2.4,21.2 -3.8,20.3 -4.0,18.4 L-3.8,12 C-3.8,9.2 -3.2,7.4 -2.1,6.2 L-2.6,4.6 L-1.8,3.2 C-1.6,1.8 -1.1,0.4 0,0Z" fill="url(#mb)"/></g>
<g transform="translate(434.0,273.4) rotate(3)"><path d="M-0.6,20.5 Q0.2,30 3.5,38" stroke="#909090" stroke-width="1.2" fill="none"/><path d="M2.6,19 L5.0,21.2 M-3.2,19 L-5.2,21 M3,8 L5,9.4" stroke="#bdbdbd" stroke-width="0.9"/><path d="M0,0 C1.1,0.4 1.6,1.8 1.8,3.2 L2.6,4.6 L2.1,6.2 C3.2,7.4 3.8,9.2 3.8,12 L4.0,18.4 C3.8,20.3 2.4,21.2 0,21.2 C-2.4,21.2 -3.8,20.3 -4.0,18.4 L-3.8,12 C-3.8,9.2 -3.2,7.4 -2.1,6.2 L-2.6,4.6 L-1.8,3.2 C-1.6,1.8 -1.1,0.4 0,0Z" fill="url(#mb)"/></g>
<g transform="translate(443.0,273.4) rotate(3)"><path d="M-0.6,20.5 Q-0.1,30 1.0,38" stroke="#909090" stroke-width="1.2" fill="none"/><path d="M2.6,19 L5.0,21.2 M-3.2,19 L-5.2,21 M3,8 L5,9.4" stroke="#bdbdbd" stroke-width="0.9"/><path d="M0,0 C1.1,0.4 1.6,1.8 1.8,3.2 L2.6,4.6 L2.1,6.2 C3.2,7.4 3.8,9.2 3.8,12 L4.0,18.4 C3.8,20.3 2.4,21.2 0,21.2 C-2.4,21.2 -3.8,20.3 -4.0,18.4 L-3.8,12 C-3.8,9.2 -3.2,7.4 -2.1,6.2 L-2.6,4.6 L-1.8,3.2 C-1.6,1.8 -1.1,0.4 0,0Z" fill="url(#mb)"/></g>
<g transform="translate(452.0,273.4) rotate(3)"><path d="M-0.6,20.5 Q-0.1,30 1.0,38" stroke="#909090" stroke-width="1.2" fill="none"/><path d="M2.6,19 L5.0,21.2 M-3.2,19 L-5.2,21 M3,8 L5,9.4" stroke="#bdbdbd" stroke-width="0.9"/><path d="M0,0 C1.1,0.4 1.6,1.8 1.8,3.2 L2.6,4.6 L2.1,6.2 C3.2,7.4 3.8,9.2 3.8,12 L4.0,18.4 C3.8,20.3 2.4,21.2 0,21.2 C-2.4,21.2 -3.8,20.3 -4.0,18.4 L-3.8,12 C-3.8,9.2 -3.2,7.4 -2.1,6.2 L-2.6,4.6 L-1.8,3.2 C-1.6,1.8 -1.1,0.4 0,0Z" fill="url(#mb)"/></g>
<circle cx="413.0" cy="291.2" r="2.56" fill="url(#gb)"/>
<circle cx="421.0" cy="291.2" r="2.56" fill="url(#gb)"/>
<circle cx="428.6" cy="291.0" r="2.56" fill="url(#gb)"/>
<circle cx="440.2" cy="291.2" r="2.56" fill="url(#gb)"/>
<circle cx="450.6" cy="291.2" r="3.10" fill="url(#gg)"/>
<rect x="462.80" y="263.80" width="49.60" height="49.80" fill="#1c1c1c"/>
<rect x="463.60" y="264.60" width="48.00" height="48.20" fill="#2b2b2b"/>
<rect x="463.60" y="264.70" width="48.00" height="7.60" fill="#3a3a3a"/>
<rect x="479.80" y="265.20" width="16.00" height="0.90" fill="#8a8a8a"/>
<rect x="503.80" y="307.30" width="7.00" height="1.00" fill="#8a8a8a"/>
<rect x="503.80" y="309.30" width="7.00" height="1.00" fill="#8a8a8a"/>
<g transform="translate(467.8,273.4) rotate(3)"><path d="M-0.6,20.5 Q-0.7,30 -2.5,38" stroke="#909090" stroke-width="1.2" fill="none"/><path d="M2.6,19 L5.0,21.2 M-3.2,19 L-5.2,21 M3,8 L5,9.4" stroke="#bdbdbd" stroke-width="0.9"/><path d="M0,0 C1.1,0.4 1.6,1.8 1.8,3.2 L2.6,4.6 L2.1,6.2 C3.2,7.4 3.8,9.2 3.8,12 L4.0,18.4 C3.8,20.3 2.4,21.2 0,21.2 C-2.4,21.2 -3.8,20.3 -4.0,18.4 L-3.8,12 C-3.8,9.2 -3.2,7.4 -2.1,6.2 L-2.6,4.6 L-1.8,3.2 C-1.6,1.8 -1.1,0.4 0,0Z" fill="url(#mb)"/></g>
<g transform="translate(477.1,273.4) rotate(3)"><path d="M-0.6,20.5 Q0.0,30 2.0,38" stroke="#909090" stroke-width="1.2" fill="none"/><path d="M2.6,19 L5.0,21.2 M-3.2,19 L-5.2,21 M3,8 L5,9.4" stroke="#bdbdbd" stroke-width="0.9"/><path d="M0,0 C1.1,0.4 1.6,1.8 1.8,3.2 L2.6,4.6 L2.1,6.2 C3.2,7.4 3.8,9.2 3.8,12 L4.0,18.4 C3.8,20.3 2.4,21.2 0,21.2 C-2.4,21.2 -3.8,20.3 -4.0,18.4 L-3.8,12 C-3.8,9.2 -3.2,7.4 -2.1,6.2 L-2.6,4.6 L-1.8,3.2 C-1.6,1.8 -1.1,0.4 0,0Z" fill="url(#mb)"/></g>
<g transform="translate(486.3,273.4) rotate(3)"><path d="M-0.6,20.5 Q-0.1,30 1.5,38" stroke="#909090" stroke-width="1.2" fill="none"/><path d="M2.6,19 L5.0,21.2 M-3.2,19 L-5.2,21 M3,8 L5,9.4" stroke="#bdbdbd" stroke-width="0.9"/><path d="M0,0 C1.1,0.4 1.6,1.8 1.8,3.2 L2.6,4.6 L2.1,6.2 C3.2,7.4 3.8,9.2 3.8,12 L4.0,18.4 C3.8,20.3 2.4,21.2 0,21.2 C-2.4,21.2 -3.8,20.3 -4.0,18.4 L-3.8,12 C-3.8,9.2 -3.2,7.4 -2.1,6.2 L-2.6,4.6 L-1.8,3.2 C-1.6,1.8 -1.1,0.4 0,0Z" fill="url(#mb)"/></g>
<g transform="translate(495.3,273.4) rotate(3)"><path d="M-0.6,20.5 Q-0.2,30 0.5,38" stroke="#909090" stroke-width="1.2" fill="none"/><path d="M2.6,19 L5.0,21.2 M-3.2,19 L-5.2,21 M3,8 L5,9.4" stroke="#bdbdbd" stroke-width="0.9"/><path d="M0,0 C1.1,0.4 1.6,1.8 1.8,3.2 L2.6,4.6 L2.1,6.2 C3.2,7.4 3.8,9.2 3.8,12 L4.0,18.4 C3.8,20.3 2.4,21.2 0,21.2 C-2.4,21.2 -3.8,20.3 -4.0,18.4 L-3.8,12 C-3.8,9.2 -3.2,7.4 -2.1,6.2 L-2.6,4.6 L-1.8,3.2 C-1.6,1.8 -1.1,0.4 0,0Z" fill="url(#mb)"/></g>
<g transform="translate(504.3,273.4) rotate(3)"><path d="M-0.6,20.5 Q-0.8,30 -3.5,38" stroke="#909090" stroke-width="1.2" fill="none"/><path d="M2.6,19 L5.0,21.2 M-3.2,19 L-5.2,21 M3,8 L5,9.4" stroke="#bdbdbd" stroke-width="0.9"/><path d="M0,0 C1.1,0.4 1.6,1.8 1.8,3.2 L2.6,4.6 L2.1,6.2 C3.2,7.4 3.8,9.2 3.8,12 L4.0,18.4 C3.8,20.3 2.4,21.2 0,21.2 C-2.4,21.2 -3.8,20.3 -4.0,18.4 L-3.8,12 C-3.8,9.2 -3.2,7.4 -2.1,6.2 L-2.6,4.6 L-1.8,3.2 C-1.6,1.8 -1.1,0.4 0,0Z" fill="url(#mb)"/></g>
<circle cx="474.4" cy="289.4" r="2.97" fill="url(#gg)"/>
<circle cx="484.8" cy="290.0" r="2.56" fill="url(#gb)"/>
<circle cx="492.0" cy="289.1" r="2.70" fill="url(#gb)"/>
<circle cx="500.7" cy="289.4" r="1.89" fill="url(#gp)"/>
<rect x="410.60" y="325.80" width="49.60" height="49.80" fill="#1c1c1c"/>
<rect x="411.40" y="326.60" width="48.00" height="48.20" fill="#2b2b2b"/>
<rect x="411.40" y="326.70" width="48.00" height="7.60" fill="#3a3a3a"/>
<rect x="427.60" y="327.20" width="16.00" height="0.90" fill="#8a8a8a"/>
<rect x="451.60" y="369.30" width="7.00" height="1.00" fill="#8a8a8a"/>
<rect x="451.60" y="371.30" width="7.00" height="1.00" fill="#8a8a8a"/>
<g transform="translate(415.6,335.4) rotate(3)"><path d="M-0.6,20.5 Q0.2,30 3.5,38" stroke="#909090" stroke-width="1.2" fill="none"/><path d="M2.6,19 L5.0,21.2 M-3.2,19 L-5.2,21 M3,8 L5,9.4" stroke="#bdbdbd" stroke-width="0.9"/><path d="M0,0 C1.1,0.4 1.6,1.8 1.8,3.2 L2.6,4.6 L2.1,6.2 C3.2,7.4 3.8,9.2 3.8,12 L4.0,18.4 C3.8,20.3 2.4,21.2 0,21.2 C-2.4,21.2 -3.8,20.3 -4.0,18.4 L-3.8,12 C-3.8,9.2 -3.2,7.4 -2.1,6.2 L-2.6,4.6 L-1.8,3.2 C-1.6,1.8 -1.1,0.4 0,0Z" fill="url(#mb)"/></g>
<g transform="translate(424.9,335.4) rotate(3)"><path d="M-0.6,20.5 Q0.2,30 3.5,38" stroke="#909090" stroke-width="1.2" fill="none"/><path d="M2.6,19 L5.0,21.2 M-3.2,19 L-5.2,21 M3,8 L5,9.4" stroke="#bdbdbd" stroke-width="0.9"/><path d="M0,0 C1.1,0.4 1.6,1.8 1.8,3.2 L2.6,4.6 L2.1,6.2 C3.2,7.4 3.8,9.2 3.8,12 L4.0,18.4 C3.8,20.3 2.4,21.2 0,21.2 C-2.4,21.2 -3.8,20.3 -4.0,18.4 L-3.8,12 C-3.8,9.2 -3.2,7.4 -2.1,6.2 L-2.6,4.6 L-1.8,3.2 C-1.6,1.8 -1.1,0.4 0,0Z" fill="url(#mb)"/></g>
<g transform="translate(434.1,335.4) rotate(3)"><path d="M-0.6,20.5 Q0.5,30 5.0,38" stroke="#909090" stroke-width="1.2" fill="none"/><path d="M2.6,19 L5.0,21.2 M-3.2,19 L-5.2,21 M3,8 L5,9.4" stroke="#bdbdbd" stroke-width="0.9"/><path d="M0,0 C1.1,0.4 1.6,1.8 1.8,3.2 L2.6,4.6 L2.1,6.2 C3.2,7.4 3.8,9.2 3.8,12 L4.0,18.4 C3.8,20.3 2.4,21.2 0,21.2 C-2.4,21.2 -3.8,20.3 -4.0,18.4 L-3.8,12 C-3.8,9.2 -3.2,7.4 -2.1,6.2 L-2.6,4.6 L-1.8,3.2 C-1.6,1.8 -1.1,0.4 0,0Z" fill="url(#mb)"/></g>
<g transform="translate(443.1,335.4) rotate(3)"><path d="M-0.6,20.5 Q0.1,30 3.0,38" stroke="#909090" stroke-width="1.2" fill="none"/><path d="M2.6,19 L5.0,21.2 M-3.2,19 L-5.2,21 M3,8 L5,9.4" stroke="#bdbdbd" stroke-width="0.9"/><path d="M0,0 C1.1,0.4 1.6,1.8 1.8,3.2 L2.6,4.6 L2.1,6.2 C3.2,7.4 3.8,9.2 3.8,12 L4.0,18.4 C3.8,20.3 2.4,21.2 0,21.2 C-2.4,21.2 -3.8,20.3 -4.0,18.4 L-3.8,12 C-3.8,9.2 -3.2,7.4 -2.1,6.2 L-2.6,4.6 L-1.8,3.2 C-1.6,1.8 -1.1,0.4 0,0Z" fill="url(#mb)"/></g>
<g transform="translate(452.1,335.4) rotate(3)"><path d="M-0.6,20.5 Q-0.1,30 1.0,38" stroke="#909090" stroke-width="1.2" fill="none"/><path d="M2.6,19 L5.0,21.2 M-3.2,19 L-5.2,21 M3,8 L5,9.4" stroke="#bdbdbd" stroke-width="0.9"/><path d="M0,0 C1.1,0.4 1.6,1.8 1.8,3.2 L2.6,4.6 L2.1,6.2 C3.2,7.4 3.8,9.2 3.8,12 L4.0,18.4 C3.8,20.3 2.4,21.2 0,21.2 C-2.4,21.2 -3.8,20.3 -4.0,18.4 L-3.8,12 C-3.8,9.2 -3.2,7.4 -2.1,6.2 L-2.6,4.6 L-1.8,3.2 C-1.6,1.8 -1.1,0.4 0,0Z" fill="url(#mb)"/></g>
<circle cx="413.1" cy="353.2" r="2.56" fill="url(#gb)"/>
<circle cx="424.0" cy="353.4" r="3.24" fill="url(#gg)"/>
<circle cx="443.0" cy="352.9" r="2.84" fill="url(#gg)"/>
<circle cx="451.1" cy="352.3" r="2.70" fill="url(#gb)"/>
<rect x="462.80" y="325.80" width="49.60" height="49.80" fill="#1c1c1c"/>
<rect x="463.60" y="326.60" width="48.00" height="48.20" fill="#2b2b2b"/>
<rect x="463.60" y="326.70" width="48.00" height="7.60" fill="#3a3a3a"/>
<rect x="479.80" y="327.20" width="16.00" height="0.90" fill="#8a8a8a"/>
<rect x="503.80" y="369.30" width="7.00" height="1.00" fill="#8a8a8a"/>
<rect x="503.80" y="371.30" width="7.00" height="1.00" fill="#8a8a8a"/>
<g transform="translate(467.8,335.4) rotate(3)"><path d="M-0.6,20.5 Q-0.8,30 -3.0,38" stroke="#909090" stroke-width="1.2" fill="none"/><path d="M2.6,19 L5.0,21.2 M-3.2,19 L-5.2,21 M3,8 L5,9.4" stroke="#bdbdbd" stroke-width="0.9"/><path d="M0,0 C1.1,0.4 1.6,1.8 1.8,3.2 L2.6,4.6 L2.1,6.2 C3.2,7.4 3.8,9.2 3.8,12 L4.0,18.4 C3.8,20.3 2.4,21.2 0,21.2 C-2.4,21.2 -3.8,20.3 -4.0,18.4 L-3.8,12 C-3.8,9.2 -3.2,7.4 -2.1,6.2 L-2.6,4.6 L-1.8,3.2 C-1.6,1.8 -1.1,0.4 0,0Z" fill="url(#mb)"/></g>
<g transform="translate(477.1,335.4) rotate(3)"><path d="M-0.6,20.5 Q0.3,30 4.0,38" stroke="#909090" stroke-width="1.2" fill="none"/><path d="M2.6,19 L5.0,21.2 M-3.2,19 L-5.2,21 M3,8 L5,9.4" stroke="#bdbdbd" stroke-width="0.9"/><path d="M0,0 C1.1,0.4 1.6,1.8 1.8,3.2 L2.6,4.6 L2.1,6.2 C3.2,7.4 3.8,9.2 3.8,12 L4.0,18.4 C3.8,20.3 2.4,21.2 0,21.2 C-2.4,21.2 -3.8,20.3 -4.0,18.4 L-3.8,12 C-3.8,9.2 -3.2,7.4 -2.1,6.2 L-2.6,4.6 L-1.8,3.2 C-1.6,1.8 -1.1,0.4 0,0Z" fill="url(#mb)"/></g>
<g transform="translate(486.3,335.4) rotate(3)"><path d="M-0.6,20.5 Q-0.1,30 1.0,38" stroke="#909090" stroke-width="1.2" fill="none"/><path d="M2.6,19 L5.0,21.2 M-3.2,19 L-5.2,21 M3,8 L5,9.4" stroke="#bdbdbd" stroke-width="0.9"/><path d="M0,0 C1.1,0.4 1.6,1.8 1.8,3.2 L2.6,4.6 L2.1,6.2 C3.2,7.4 3.8,9.2 3.8,12 L4.0,18.4 C3.8,20.3 2.4,21.2 0,21.2 C-2.4,21.2 -3.8,20.3 -4.0,18.4 L-3.8,12 C-3.8,9.2 -3.2,7.4 -2.1,6.2 L-2.6,4.6 L-1.8,3.2 C-1.6,1.8 -1.1,0.4 0,0Z" fill="url(#mb)"/></g>
<g transform="translate(495.3,335.4) rotate(3)"><path d="M-0.6,20.5 Q-0.7,30 -2.5,38" stroke="#909090" stroke-width="1.2" fill="none"/><path d="M2.6,19 L5.0,21.2 M-3.2,19 L-5.2,21 M3,8 L5,9.4" stroke="#bdbdbd" stroke-width="0.9"/><path d="M0,0 C1.1,0.4 1.6,1.8 1.8,3.2 L2.6,4.6 L2.1,6.2 C3.2,7.4 3.8,9.2 3.8,12 L4.0,18.4 C3.8,20.3 2.4,21.2 0,21.2 C-2.4,21.2 -3.8,20.3 -4.0,18.4 L-3.8,12 C-3.8,9.2 -3.2,7.4 -2.1,6.2 L-2.6,4.6 L-1.8,3.2 C-1.6,1.8 -1.1,0.4 0,0Z" fill="url(#mb)"/></g>
<g transform="translate(504.3,335.4) rotate(3)"><path d="M-0.6,20.5 Q-0.4,30 -1.0,38" stroke="#909090" stroke-width="1.2" fill="none"/><path d="M2.6,19 L5.0,21.2 M-3.2,19 L-5.2,21 M3,8 L5,9.4" stroke="#bdbdbd" stroke-width="0.9"/><path d="M0,0 C1.1,0.4 1.6,1.8 1.8,3.2 L2.6,4.6 L2.1,6.2 C3.2,7.4 3.8,9.2 3.8,12 L4.0,18.4 C3.8,20.3 2.4,21.2 0,21.2 C-2.4,21.2 -3.8,20.3 -4.0,18.4 L-3.8,12 C-3.8,9.2 -3.2,7.4 -2.1,6.2 L-2.6,4.6 L-1.8,3.2 C-1.6,1.8 -1.1,0.4 0,0Z" fill="url(#mb)"/></g>
<circle cx="463.2" cy="350.6" r="1.62" fill="url(#gr)"/>
<circle cx="473.6" cy="352.9" r="1.89" fill="url(#gb)"/>
<circle cx="504.7" cy="351.4" r="2.43" fill="url(#gt)"/>
<text x="6.80" y="445.90" font-size="11.5" text-anchor="start" font-weight="bold" textLength="9.00" lengthAdjust="spacingAndGlyphs" fill="#000" style="stroke:#000;stroke-width:0.45px">D</text>
<line x1="62.40" y1="485.30" x2="62.40" y2="587.80" stroke="#231f20" stroke-width="1.2"/>
<line x1="62.40" y1="587.20" x2="204.40" y2="587.20" stroke="#231f20" stroke-width="1.2"/>
<line x1="59.00" y1="587.20" x2="62.40" y2="587.20" stroke="#231f20" stroke-width="1"/>
<text x="56.40" y="589.20" font-size="7.4" text-anchor="end" textLength="11.40" lengthAdjust="spacingAndGlyphs">0.0</text>
<line x1="59.00" y1="580.29" x2="62.40" y2="580.29" stroke="#231f20" stroke-width="1"/>
<text x="54.00" y="582.29" font-size="7.4" text-anchor="end" textLength="25.20" lengthAdjust="spacingAndGlyphs">1.0×10</text>
<text x="53.40" y="578.99" font-size="5.6" text-anchor="start" textLength="3.20" lengthAdjust="spacingAndGlyphs">7</text>
<line x1="59.00" y1="573.38" x2="62.40" y2="573.38" stroke="#231f20" stroke-width="1"/>
<text x="54.00" y="575.38" font-size="7.4" text-anchor="end" textLength="25.20" lengthAdjust="spacingAndGlyphs">2.0×10</text>
<text x="53.40" y="572.08" font-size="5.6" text-anchor="start" textLength="3.20" lengthAdjust="spacingAndGlyphs">7</text>
<line x1="59.00" y1="566.47" x2="62.40" y2="566.47" stroke="#231f20" stroke-width="1"/>
<text x="54.00" y="568.47" font-size="7.4" text-anchor="end" textLength="25.20" lengthAdjust="spacingAndGlyphs">3.0×10</text>
<text x="53.40" y="565.17" font-size="5.6" text-anchor="start" textLength="3.20" lengthAdjust="spacingAndGlyphs">7</text>
<line x1="59.00" y1="559.56" x2="62.40" y2="559.56" stroke="#231f20" stroke-width="1"/>
<text x="54.00" y="561.56" font-size="7.4" text-anchor="end" textLength="25.20" lengthAdjust="spacingAndGlyphs">4.0×10</text>
<text x="53.40" y="558.26" font-size="5.6" text-anchor="start" textLength="3.20" lengthAdjust="spacingAndGlyphs">7</text>
<line x1="59.00" y1="552.65" x2="62.40" y2="552.65" stroke="#231f20" stroke-width="1"/>
<text x="54.00" y="554.65" font-size="7.4" text-anchor="end" textLength="25.20" lengthAdjust="spacingAndGlyphs">5.0×10</text>
<text x="53.40" y="551.35" font-size="5.6" text-anchor="start" textLength="3.20" lengthAdjust="spacingAndGlyphs">7</text>
<line x1="59.00" y1="545.74" x2="62.40" y2="545.74" stroke="#231f20" stroke-width="1"/>
<text x="54.00" y="547.74" font-size="7.4" text-anchor="end" textLength="25.20" lengthAdjust="spacingAndGlyphs">6.0×10</text>
<text x="53.40" y="544.44" font-size="5.6" text-anchor="start" textLength="3.20" lengthAdjust="spacingAndGlyphs">7</text>
<line x1="59.00" y1="538.83" x2="62.40" y2="538.83" stroke="#231f20" stroke-width="1"/>
<text x="54.00" y="540.83" font-size="7.4" text-anchor="end" textLength="25.20" lengthAdjust="spacingAndGlyphs">7.0×10</text>
<text x="53.40" y="537.53" font-size="5.6" text-anchor="start" textLength="3.20" lengthAdjust="spacingAndGlyphs">7</text>
<line x1="59.00" y1="531.92" x2="62.40" y2="531.92" stroke="#231f20" stroke-width="1"/>
<text x="54.00" y="533.92" font-size="7.4" text-anchor="end" textLength="25.20" lengthAdjust="spacingAndGlyphs">8.0×10</text>
<text x="53.40" y="530.62" font-size="5.6" text-anchor="start" textLength="3.20" lengthAdjust="spacingAndGlyphs">7</text>
<line x1="59.00" y1="525.01" x2="62.40" y2="525.01" stroke="#231f20" stroke-width="1"/>
<text x="54.00" y="527.01" font-size="7.4" text-anchor="end" textLength="25.20" lengthAdjust="spacingAndGlyphs">9.0×10</text>
<text x="53.40" y="523.71" font-size="5.6" text-anchor="start" textLength="3.20" lengthAdjust="spacingAndGlyphs">7</text>
<line x1="59.00" y1="518.10" x2="62.40" y2="518.10" stroke="#231f20" stroke-width="1"/>
<text x="54.00" y="520.10" font-size="7.4" text-anchor="end" textLength="25.20" lengthAdjust="spacingAndGlyphs">1.0×10</text>
<text x="53.40" y="516.80" font-size="5.6" text-anchor="start" textLength="3.20" lengthAdjust="spacingAndGlyphs">8</text>
<line x1="59.00" y1="511.19" x2="62.40" y2="511.19" stroke="#231f20" stroke-width="1"/>
<text x="54.00" y="513.19" font-size="7.4" text-anchor="end" textLength="25.20" lengthAdjust="spacingAndGlyphs">1.1×10</text>
<text x="53.40" y="509.89" font-size="5.6" text-anchor="start" textLength="3.20" lengthAdjust="spacingAndGlyphs">8</text>
<line x1="59.00" y1="504.28" x2="62.40" y2="504.28" stroke="#231f20" stroke-width="1"/>
<text x="54.00" y="506.28" font-size="7.4" text-anchor="end" textLength="25.20" lengthAdjust="spacingAndGlyphs">1.2×10</text>
<text x="53.40" y="502.98" font-size="5.6" text-anchor="start" textLength="3.20" lengthAdjust="spacingAndGlyphs">8</text>
<line x1="59.00" y1="497.37" x2="62.40" y2="497.37" stroke="#231f20" stroke-width="1"/>
<text x="54.00" y="499.37" font-size="7.4" text-anchor="end" textLength="25.20" lengthAdjust="spacingAndGlyphs">1.3×10</text>
<text x="53.40" y="496.07" font-size="5.6" text-anchor="start" textLength="3.20" lengthAdjust="spacingAndGlyphs">8</text>
<line x1="59.00" y1="490.46" x2="62.40" y2="490.46" stroke="#231f20" stroke-width="1"/>
<text x="54.00" y="492.46" font-size="7.4" text-anchor="end" textLength="25.20" lengthAdjust="spacingAndGlyphs">1.4×10</text>
<text x="53.40" y="489.16" font-size="5.6" text-anchor="start" textLength="3.20" lengthAdjust="spacingAndGlyphs">8</text>
<text x="21.70" y="536.70" font-size="8.4" text-anchor="middle" textLength="51.60" lengthAdjust="spacingAndGlyphs" transform="rotate(-90 21.70 536.70)">Signal intensity</text>
<rect x="68.00" y="508.90" width="23.80" height="78.30" fill="#c8102e"/>
<line x1="79.90" y1="493.50" x2="79.90" y2="508.90" stroke="#d8586a" stroke-width="1"/>
<line x1="73.70" y1="493.50" x2="86.10" y2="493.50" stroke="#d8586a" stroke-width="1"/>
<rect x="103.80" y="566.30" width="23.60" height="20.90" fill="#1b4f86"/>
<line x1="115.60" y1="558.90" x2="115.60" y2="566.30" stroke="#4a7ab0" stroke-width="1"/>
<line x1="109.40" y1="558.90" x2="121.80" y2="558.90" stroke="#4a7ab0" stroke-width="1"/>
<rect x="139.70" y="559.70" width="23.50" height="27.50" fill="#3dbb4c"/>
<line x1="151.45" y1="549.20" x2="151.45" y2="559.70" stroke="#3dbb4c" stroke-width="1"/>
<line x1="145.25" y1="549.20" x2="157.65" y2="549.20" stroke="#3dbb4c" stroke-width="1"/>
<rect x="175.60" y="584.20" width="23.20" height="3.00" fill="#5a2580"/>
<line x1="187.20" y1="582.20" x2="187.20" y2="584.20" stroke="#8050a0" stroke-width="1"/>
<line x1="181.00" y1="582.20" x2="193.40" y2="582.20" stroke="#8050a0" stroke-width="1"/>
<line x1="83.00" y1="481.20" x2="175.60" y2="481.20" stroke="#231f20" stroke-width="1"/>
<circle cx="126.10" cy="478.10" r="1.1" fill="#231f20"/>
<circle cx="129.40" cy="478.10" r="1.1" fill="#231f20"/>
<circle cx="132.70" cy="478.10" r="1.1" fill="#231f20"/>
<line x1="83.00" y1="488.80" x2="138.40" y2="488.80" stroke="#231f20" stroke-width="1"/>
<circle cx="110.40" cy="485.70" r="1.1" fill="#231f20"/>
<line x1="83.00" y1="496.60" x2="118.80" y2="496.60" stroke="#231f20" stroke-width="1"/>
<circle cx="98.85" cy="493.50" r="1.1" fill="#231f20"/>
<circle cx="102.15" cy="493.50" r="1.1" fill="#231f20"/>
<rect x="162.30" y="495.50" width="6.30" height="6.20" fill="#c8102e"/>
<text x="171.40" y="501.50" font-size="8.2" text-anchor="start" textLength="43.20" lengthAdjust="spacingAndGlyphs">Control (n=5)</text>
<rect x="162.30" y="506.20" width="6.30" height="6.20" fill="#1b4f86"/>
<text x="171.40" y="512.20" font-size="8.2" text-anchor="start" textLength="53.00" lengthAdjust="spacingAndGlyphs">Palbociclib (n=5)</text>
<rect x="162.30" y="516.70" width="6.30" height="6.20" fill="#3dbb4c"/>
<text x="171.40" y="522.70" font-size="8.2" text-anchor="start" textLength="53.60" lengthAdjust="spacingAndGlyphs">Everolimus (n=5)</text>
<rect x="162.30" y="527.20" width="6.30" height="6.20" fill="#5a2580"/>
<text x="171.40" y="533.20" font-size="8.2" text-anchor="start" textLength="61.20" lengthAdjust="spacingAndGlyphs">Combination (n=5)</text>
<text x="261.00" y="446.50" font-size="11.5" text-anchor="start" font-weight="bold" textLength="7.00" lengthAdjust="spacingAndGlyphs" fill="#000" style="stroke:#000;stroke-width:0.45px">E</text>
<line x1="299.50" y1="446.30" x2="299.50" y2="587.90" stroke="#231f20" stroke-width="1.2"/>
<line x1="297.00" y1="587.30" x2="483.00" y2="587.30" stroke="#231f20" stroke-width="1.2"/>
<line x1="296.80" y1="587.30" x2="299.50" y2="587.30" stroke="#231f20" stroke-width="1"/>
<text x="293.60" y="589.60" font-size="7.4" text-anchor="end" textLength="4.30" lengthAdjust="spacingAndGlyphs">0</text>
<line x1="296.80" y1="579.70" x2="299.50" y2="579.70" stroke="#231f20" stroke-width="1"/>
<text x="293.60" y="582.00" font-size="7.4" text-anchor="end" textLength="12.90" lengthAdjust="spacingAndGlyphs">100</text>
<line x1="296.80" y1="572.10" x2="299.50" y2="572.10" stroke="#231f20" stroke-width="1"/>
<text x="293.60" y="574.40" font-size="7.4" text-anchor="end" textLength="12.90" lengthAdjust="spacingAndGlyphs">200</text>
<line x1="296.80" y1="564.50" x2="299.50" y2="564.50" stroke="#231f20" stroke-width="1"/>
<text x="293.60" y="566.80" font-size="7.4" text-anchor="end" textLength="12.90" lengthAdjust="spacingAndGlyphs">300</text>
<line x1="296.80" y1="556.90" x2="299.50" y2="556.90" stroke="#231f20" stroke-width="1"/>
<text x="293.60" y="559.20" font-size="7.4" text-anchor="end" textLength="12.90" lengthAdjust="spacingAndGlyphs">400</text>
<line x1="296.80" y1="549.30" x2="299.50" y2="549.30" stroke="#231f20" stroke-width="1"/>
<text x="293.60" y="551.60" font-size="7.4" text-anchor="end" textLength="12.90" lengthAdjust="spacingAndGlyphs">500</text>
<line x1="296.80" y1="541.70" x2="299.50" y2="541.70" stroke="#231f20" stroke-width="1"/>
<text x="293.60" y="544.00" font-size="7.4" text-anchor="end" textLength="12.90" lengthAdjust="spacingAndGlyphs">600</text>
<line x1="296.80" y1="534.10" x2="299.50" y2="534.10" stroke="#231f20" stroke-width="1"/>
<text x="293.60" y="536.40" font-size="7.4" text-anchor="end" textLength="12.90" lengthAdjust="spacingAndGlyphs">700</text>
<line x1="296.80" y1="526.50" x2="299.50" y2="526.50" stroke="#231f20" stroke-width="1"/>
<text x="293.60" y="528.80" font-size="7.4" text-anchor="end" textLength="12.90" lengthAdjust="spacingAndGlyphs">800</text>
<line x1="296.80" y1="518.90" x2="299.50" y2="518.90" stroke="#231f20" stroke-width="1"/>
<text x="293.60" y="521.20" font-size="7.4" text-anchor="end" textLength="12.90" lengthAdjust="spacingAndGlyphs">900</text>
<line x1="296.80" y1="511.30" x2="299.50" y2="511.30" stroke="#231f20" stroke-width="1"/>
<text x="293.60" y="513.60" font-size="7.4" text-anchor="end" textLength="17.20" lengthAdjust="spacingAndGlyphs">1000</text>
<line x1="296.80" y1="503.70" x2="299.50" y2="503.70" stroke="#231f20" stroke-width="1"/>
<text x="293.60" y="506.00" font-size="7.4" text-anchor="end" textLength="17.20" lengthAdjust="spacingAndGlyphs">1100</text>
<line x1="296.80" y1="496.10" x2="299.50" y2="496.10" stroke="#231f20" stroke-width="1"/>
<text x="293.60" y="498.40" font-size="7.4" text-anchor="end" textLength="17.20" lengthAdjust="spacingAndGlyphs">1200</text>
<line x1="296.80" y1="488.50" x2="299.50" y2="488.50" stroke="#231f20" stroke-width="1"/>
<text x="293.60" y="490.80" font-size="7.4" text-anchor="end" textLength="17.20" lengthAdjust="spacingAndGlyphs">1300</text>
<line x1="296.80" y1="480.90" x2="299.50" y2="480.90" stroke="#231f20" stroke-width="1"/>
<text x="293.60" y="483.20" font-size="7.4" text-anchor="end" textLength="17.20" lengthAdjust="spacingAndGlyphs">1400</text>
<line x1="296.80" y1="473.30" x2="299.50" y2="473.30" stroke="#231f20" stroke-width="1"/>
<text x="293.60" y="475.60" font-size="7.4" text-anchor="end" textLength="17.20" lengthAdjust="spacingAndGlyphs">1500</text>
<line x1="296.80" y1="465.70" x2="299.50" y2="465.70" stroke="#231f20" stroke-width="1"/>
<text x="293.60" y="468.00" font-size="7.4" text-anchor="end" textLength="17.20" lengthAdjust="spacingAndGlyphs">1600</text>
<line x1="296.80" y1="458.10" x2="299.50" y2="458.10" stroke="#231f20" stroke-width="1"/>
<text x="293.60" y="460.40" font-size="7.4" text-anchor="end" textLength="17.20" lengthAdjust="spacingAndGlyphs">1700</text>
<line x1="296.80" y1="450.50" x2="299.50" y2="450.50" stroke="#231f20" stroke-width="1"/>
<text x="293.60" y="452.80" font-size="7.4" text-anchor="end" textLength="17.20" lengthAdjust="spacingAndGlyphs">1800</text>
<line x1="299.50" y1="587.30" x2="299.50" y2="590.20" stroke="#231f20" stroke-width="1"/>
<text x="299.50" y="599.40" font-size="8.0" text-anchor="middle" textLength="4.50" lengthAdjust="spacingAndGlyphs">0</text>
<line x1="344.50" y1="587.30" x2="344.50" y2="590.20" stroke="#231f20" stroke-width="1"/>
<text x="344.50" y="599.40" font-size="8.0" text-anchor="middle" textLength="4.50" lengthAdjust="spacingAndGlyphs">5</text>
<line x1="389.50" y1="587.30" x2="389.50" y2="590.20" stroke="#231f20" stroke-width="1"/>
<text x="389.50" y="599.40" font-size="8.0" text-anchor="middle" textLength="9.00" lengthAdjust="spacingAndGlyphs">10</text>
<line x1="434.50" y1="587.30" x2="434.50" y2="590.20" stroke="#231f20" stroke-width="1"/>
<text x="434.50" y="599.40" font-size="8.0" text-anchor="middle" textLength="9.00" lengthAdjust="spacingAndGlyphs">15</text>
<line x1="479.50" y1="587.30" x2="479.50" y2="590.20" stroke="#231f20" stroke-width="1"/>
<text x="479.50" y="599.40" font-size="8.0" text-anchor="middle" textLength="9.00" lengthAdjust="spacingAndGlyphs">20</text>
<text x="356.70" y="611.50" font-size="8.8" text-anchor="start" textLength="66.00" lengthAdjust="spacingAndGlyphs">Days post treatment</text>
<text transform="translate(269.9 553.2) rotate(-90)" font-size="8.3" fill="#231f20"><tspan textLength="65.4" lengthAdjust="spacingAndGlyphs">Tumor volume (mm</tspan><tspan dy="-3" font-size="5.6">3</tspan><tspan dy="3">)</tspan></text>
<polyline points="299.5,582.7 344.5,581.7 389.5,583.8 434.5,584.9 479.5,578.6" fill="none" stroke="#5a2580" stroke-width="1.5" stroke-linejoin="round"/>
<path d="M299.5,584.9 L301.8,581.1 L297.2,581.1Z" fill="#5a2580"/>
<path d="M344.5,583.9 L346.8,580.1 L342.2,580.1Z" fill="#5a2580"/>
<path d="M389.5,586.0 L391.8,582.2 L387.2,582.2Z" fill="#5a2580"/>
<path d="M434.5,587.1 L436.8,583.3 L432.2,583.3Z" fill="#5a2580"/>
<line x1="479.50" y1="576.50" x2="479.50" y2="581.50" stroke="#5a2580" stroke-width="1" opacity="0.75"/>
<line x1="477.10" y1="576.50" x2="481.90" y2="576.50" stroke="#5a2580" stroke-width="1" opacity="0.75"/>
<line x1="477.10" y1="581.50" x2="481.90" y2="581.50" stroke="#5a2580" stroke-width="1" opacity="0.75"/>
<path d="M479.5,580.8 L481.8,577.0 L477.2,577.0Z" fill="#5a2580"/>
<polyline points="299.5,582.7 344.5,580.6 389.5,578.5 434.5,570.8 479.5,551.2" fill="none" stroke="#1b4f86" stroke-width="1.5" stroke-linejoin="round"/>
<rect x="297.70" y="580.94" width="3.60" height="3.60" fill="#1b4f86"/>
<rect x="342.70" y="578.81" width="3.60" height="3.60" fill="#1b4f86"/>
<rect x="387.70" y="576.68" width="3.60" height="3.60" fill="#1b4f86"/>
<line x1="434.50" y1="568.40" x2="434.50" y2="573.20" stroke="#1b4f86" stroke-width="1" opacity="0.75"/>
<line x1="432.10" y1="568.40" x2="436.90" y2="568.40" stroke="#1b4f86" stroke-width="1" opacity="0.75"/>
<line x1="432.10" y1="573.20" x2="436.90" y2="573.20" stroke="#1b4f86" stroke-width="1" opacity="0.75"/>
<rect x="432.70" y="569.01" width="3.60" height="3.60" fill="#1b4f86"/>
<line x1="479.50" y1="548.10" x2="479.50" y2="554.90" stroke="#1b4f86" stroke-width="1" opacity="0.75"/>
<line x1="477.10" y1="548.10" x2="481.90" y2="548.10" stroke="#1b4f86" stroke-width="1" opacity="0.75"/>
<line x1="477.10" y1="554.90" x2="481.90" y2="554.90" stroke="#1b4f86" stroke-width="1" opacity="0.75"/>
<rect x="477.70" y="549.40" width="3.60" height="3.60" fill="#1b4f86"/>
<polyline points="299.5,582.7 344.5,580.3 389.5,579.6 434.5,573.5 479.5,563.1" fill="none" stroke="#3dbb4c" stroke-width="1.5" stroke-linejoin="round"/>
<path d="M299.5,580.5 L301.8,584.3 L297.2,584.3Z" fill="#3dbb4c"/>
<path d="M344.5,578.1 L346.8,581.9 L342.2,581.9Z" fill="#3dbb4c"/>
<path d="M389.5,577.4 L391.8,581.2 L387.2,581.2Z" fill="#3dbb4c"/>
<line x1="434.50" y1="569.60" x2="434.50" y2="576.20" stroke="#3dbb4c" stroke-width="1" opacity="0.75"/>
<line x1="432.10" y1="569.60" x2="436.90" y2="569.60" stroke="#3dbb4c" stroke-width="1" opacity="0.75"/>
<line x1="432.10" y1="576.20" x2="436.90" y2="576.20" stroke="#3dbb4c" stroke-width="1" opacity="0.75"/>
<path d="M434.5,571.3 L436.8,575.1 L432.2,575.1Z" fill="#3dbb4c"/>
<path d="M479.5,560.9 L481.8,564.7 L477.2,564.7Z" fill="#3dbb4c"/>
<polyline points="299.5,582.7 344.5,579.2 389.5,572.2 434.5,538.1 479.5,466.7" fill="none" stroke="#c8102e" stroke-width="1.5" stroke-linejoin="round"/>
<circle cx="299.5" cy="582.7" r="2.2" fill="#c8102e"/>
<circle cx="344.5" cy="579.2" r="2.2" fill="#c8102e"/>
<circle cx="389.5" cy="572.2" r="2.2" fill="#c8102e"/>
<line x1="434.50" y1="533.70" x2="434.50" y2="542.20" stroke="#c8102e" stroke-width="1" opacity="0.75"/>
<line x1="432.10" y1="533.70" x2="436.90" y2="533.70" stroke="#c8102e" stroke-width="1" opacity="0.75"/>
<line x1="432.10" y1="542.20" x2="436.90" y2="542.20" stroke="#c8102e" stroke-width="1" opacity="0.75"/>
<circle cx="434.5" cy="538.1" r="2.2" fill="#c8102e"/>
<line x1="479.50" y1="459.10" x2="479.50" y2="474.80" stroke="#c8102e" stroke-width="1" opacity="0.75"/>
<line x1="477.10" y1="459.10" x2="481.90" y2="459.10" stroke="#c8102e" stroke-width="1" opacity="0.75"/>
<line x1="477.10" y1="474.80" x2="481.90" y2="474.80" stroke="#c8102e" stroke-width="1" opacity="0.75"/>
<circle cx="479.5" cy="466.7" r="2.2" fill="#c8102e"/>
<line x1="326.70" y1="458.10" x2="340.20" y2="458.10" stroke="#c8102e" stroke-width="1.6"/>
<circle cx="333.5" cy="458.1" r="2.1" fill="#c8102e"/>
<text x="343.80" y="461.00" font-size="8.2" text-anchor="start" textLength="42.90" lengthAdjust="spacingAndGlyphs">Control (n=6)</text>
<line x1="326.70" y1="469.00" x2="340.20" y2="469.00" stroke="#1b4f86" stroke-width="1.6"/>
<rect x="331.70" y="467.20" width="3.60" height="3.60" fill="#1b4f86"/>
<text x="343.80" y="471.90" font-size="8.2" text-anchor="start" textLength="54.50" lengthAdjust="spacingAndGlyphs">Palbociclib (n=6)</text>
<line x1="326.70" y1="478.70" x2="340.20" y2="478.70" stroke="#3dbb4c" stroke-width="1.6"/>
<path d="M333.5,476.6 L335.7,480.2 L331.3,480.2Z" fill="#3dbb4c"/>
<text x="343.80" y="481.60" font-size="8.2" text-anchor="start" textLength="54.90" lengthAdjust="spacingAndGlyphs">Everolimus (n=6)</text>
<line x1="326.70" y1="488.30" x2="340.20" y2="488.30" stroke="#5a2580" stroke-width="1.6"/>
<path d="M333.5,490.4 L335.7,486.8 L331.3,486.8Z" fill="#5a2580"/>
<text x="343.80" y="491.20" font-size="8.2" text-anchor="start" textLength="62.20" lengthAdjust="spacingAndGlyphs">Combination (n=6)</text>
<line x1="487.50" y1="469.30" x2="487.50" y2="580.10" stroke="#231f20" stroke-width="1"/>
<line x1="493.80" y1="549.60" x2="493.80" y2="580.10" stroke="#231f20" stroke-width="1"/>
<line x1="500.50" y1="561.20" x2="500.50" y2="580.10" stroke="#231f20" stroke-width="1"/>
<circle cx="491.50" cy="471.40" r="1.1" fill="#231f20"/>
<circle cx="494.50" cy="471.40" r="1.1" fill="#231f20"/>
<circle cx="497.50" cy="471.40" r="1.1" fill="#231f20"/>
<circle cx="498.30" cy="552.10" r="1.1" fill="#231f20"/>
<circle cx="501.30" cy="552.10" r="1.1" fill="#231f20"/>
<circle cx="504.30" cy="552.10" r="1.1" fill="#231f20"/>
<circle cx="504.50" cy="562.20" r="1.1" fill="#231f20"/>
<circle cx="507.50" cy="562.20" r="1.1" fill="#231f20"/>
<circle cx="510.50" cy="562.20" r="1.1" fill="#231f20"/>
</svg>
</body></html>
